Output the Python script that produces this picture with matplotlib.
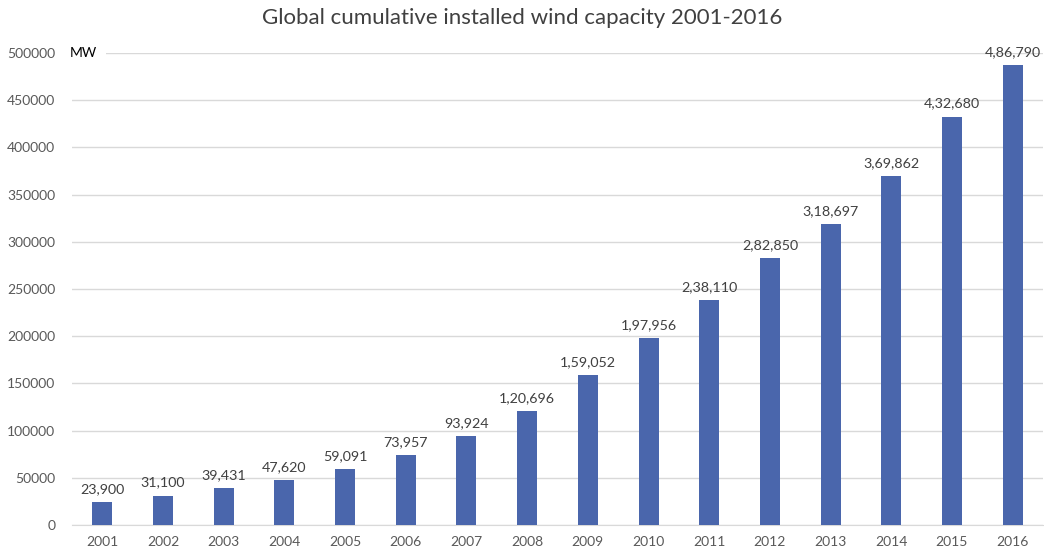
import numpy as np
import matplotlib
matplotlib.use('Agg')
import matplotlib.pyplot as plt
from matplotlib.transforms import blended_transform_factory

plt.rcParams['font.family'] = ['Lato', 'DejaVu Sans']

years = ['2001', '2002', '2003', '2004', '2005', '2006', '2007', '2008',
         '2009', '2010', '2011', '2012', '2013', '2014', '2015', '2016']
capacity = [23900, 31100, 39431, 47620, 59091, 73957, 93924, 120696,
            159052, 197956, 238110, 282850, 318697, 369862, 432680, 486790]
value_labels = ['23,900', '31,100', '39,431', '47,620', '59,091', '73,957',
                '93,924', '1,20,696', '1,59,052', '1,97,956', '2,38,110',
                '2,82,850', '3,18,697', '3,69,862', '4,32,680', '4,86,790']
y_ticks = [0, 50000, 100000, 150000, 200000, 250000, 300000, 350000, 400000, 450000, 500000]

fig = plt.figure(figsize=(10.44, 5.52), dpi=100)
ax = fig.add_axes([0.069, 0.049, 0.93, 0.855])

x = np.arange(len(years))
bars = ax.bar(x, capacity, width=0.33, color='#4a66ac', zorder=3)
for rect, lab in zip(bars, value_labels):
    ax.annotate(lab, (rect.get_x() + rect.get_width() / 2, rect.get_height()),
                xytext=(0, 5), textcoords='offset points', ha='center', va='bottom',
                fontsize=10.3, color='#404040')

ax.set_xlim(-0.5, len(years) - 0.5)
ax.set_ylim(0, 500000)
ax.set_xticks(x)
ax.set_xticklabels(years)
ax.set_yticks(y_ticks)
ax.set_yticklabels([str(v) for v in y_ticks])
ax.tick_params(axis='both', length=0, labelsize=10, labelcolor='#595959')
ax.tick_params(axis='x', pad=8)
ax.tick_params(axis='y', pad=12)
ax.grid(axis='y', color='#d9d9d9', linewidth=1, zorder=0)
for s in ['top', 'right', 'left']:
    ax.spines[s].set_visible(False)
ax.spines['bottom'].set_color('#d9d9d9')

# unit label sits on the top gridline, covering its start
trans = blended_transform_factory(ax.transAxes, ax.transData)
ax.text(-0.002, 500000, 'MW', transform=trans, fontsize=10, color='black',
        va='center', ha='left', zorder=4,
        bbox=dict(facecolor='white', edgecolor='none', pad=6))
fig.suptitle('Global cumulative installed wind capacity 2001-2016', y=0.985,
             fontsize=16, color='#404040')

fig.savefig('out.png', dpi=100)
